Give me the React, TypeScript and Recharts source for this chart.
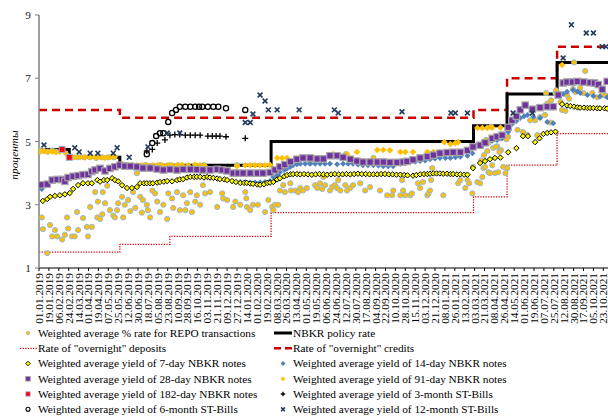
import { ComposedChart, Line, Scatter, XAxis, YAxis } from 'recharts';

const FONT = '"Liberation Serif", "Times New Roman", Times, serif';

// x values are days counted from 01.01.2019
const tickLabels = [
  '01.01.2019', '19.01.2019', '06.02.2019', '24.02.2019', '14.03.2019', '01.04.2019', '19.04.2019',
  '07.05.2019', '25.05.2019', '12.06.2019', '30.06.2019', '18.07.2019', '05.08.2019', '23.08.2019',
  '10.09.2019', '28.09.2019', '16.10.2019', '03.11.2019', '21.11.2019', '09.12.2019', '27.12.2019',
  '14.01.2020', '01.02.2020', '19.02.2020', '08.03.2020', '26.03.2020', '13.04.2020', '01.05.2020',
  '19.05.2020', '06.06.2020', '24.06.2020', '12.07.2020', '30.07.2020', '17.08.2020', '04.09.2020',
  '22.09.2020', '10.10.2020', '28.10.2020', '15.11.2020', '03.12.2020', '21.12.2020', '08.01.2021',
  '26.01.2021', '13.02.2021', '03.03.2021', '21.03.2021', '08.04.2021', '26.04.2021', '14.05.2021',
  '01.06.2021', '19.06.2021', '07.07.2021', '25.07.2021', '12.08.2021', '30.08.2021', '17.09.2021',
  '05.10.2021', '23.10.2021',
];
const yTicks = [1, 3, 5, 7, 9];

const policyRate = [[0, 4.75], [55, 4.5], [147, 4.25], [422, 5.0], [790, 5.5], [851, 6.5], [942, 7.5], [1040, 7.5]];
const overnightCredits = [[0, 6.0], [147, 5.75], [790, 6.0], [851, 7.0], [942, 8.0], [1040, 8.0]];
const overnightDeposits = [[0, 1.5], [147, 1.75], [238, 2.0], [422, 2.75], [790, 3.25], [851, 4.25], [942, 5.25], [1040, 5.25]];

const repo = [
  [2, 4.72], [9, 4.7], [16, 4.68], [24, 4.72], [31, 4.68],
  [5, 2.6], [7, 2.23], [15, 1.47], [20, 2.36], [24, 2.0], [29, 2.2], [33, 2.0], [42, 1.9], [47, 2.05], [51, 2.6],
  [53, 2.25], [60, 2.0], [60, 4.5], [65, 2.0], [71, 2.2], [69, 2.77], [71, 4.5], [80, 2.58], [82, 4.5], [87, 2.3],
  [89, 2.0], [93, 2.93], [93, 4.5], [96, 2.3], [102, 3.4], [104, 4.48], [106, 2.6], [107, 3.1], [111, 2.55],
  [115, 2.7], [115, 4.5], [116, 3.4], [120, 3.05], [124, 3.6], [126, 4.5], [129, 2.83], [135, 2.66], [136, 4.5],
  [138, 2.6], [142, 2.83], [144, 3.05], [151, 3.25], [153, 2.6], [156, 3.0], [156, 4.25], [162, 3.15], [166, 2.8],
  [171, 3.4], [175, 2.9], [178, 4.0], [184, 3.25], [187, 2.75], [189, 3.15], [193, 4.25], [196, 3.0], [198, 2.83],
  [202, 2.6], [206, 3.45], [211, 3.36], [215, 3.1], [220, 2.77], [220, 4.25], [226, 3.0], [233, 2.55], [235, 3.36],
  [238, 4.25], [242, 3.2], [244, 2.9], [251, 3.4], [253, 4.25], [256, 2.83], [262, 3.3], [266, 2.83], [269, 3.05],
  [275, 3.4], [278, 2.77], [284, 3.1], [287, 3.3], [293, 3.0],
  [298, 3.62], [302, 3.36], [300, 4.25], [311, 3.4], [324, 2.93], [333, 3.36], [335, 3.2], [342, 3.15], [353, 2.93],
  [357, 3.1], [360, 4.25], [366, 3.0], [375, 3.4], [377, 3.2], [378, 2.93], [384, 2.83], [389, 3.0], [398, 3.0],
  [411, 2.77], [417, 3.15], [424, 2.93], [426, 2.83], [429, 3.0], [435, 3.0], [438, 3.45], [444, 3.62], [447, 3.4],
  [457, 3.68], [458, 3.45], [466, 3.45], [471, 3.4], [475, 3.53], [480, 3.45], [487, 3.53], [493, 4.32], [502, 3.62],
  [506, 3.53], [511, 3.68], [515, 3.5], [517, 3.88], [520, 3.62], [529, 3.45], [533, 3.56], [538, 3.62], [544, 3.78],
  [542, 3.53], [548, 3.45], [557, 3.62], [560, 3.45], [566, 3.53], [571, 3.62], [584, 3.68], [593, 3.45], [602, 3.56],
  [608, 4.48], [620, 3.45], [633, 3.3], [642, 3.3], [644, 3.45], [540, 4.57], [558, 4.6],
  [657, 3.3], [660, 3.78], [662, 3.45], [666, 3.3], [675, 3.3], [678, 3.36], [689, 3.68], [693, 3.53], [698, 3.72],
  [706, 3.3], [708, 3.36], [711, 3.45], [713, 3.78], [715, 4.16], [735, 3.3], [762, 3.68], [766, 3.78], [775, 3.53],
  [779, 3.78], [782, 3.68], [788, 3.36], [789, 4.2], [797, 3.72], [802, 3.68], [804, 4.4], [806, 3.88], [808, 4.16],
  [809, 4.57], [811, 4.2], [815, 4.7], [817, 4.03], [820, 4.0], [824, 4.25], [826, 4.8], [829, 4.0], [833, 4.85],
  [835, 4.03], [839, 5.1], [840, 4.73], [844, 4.2], [848, 4.0], [851, 4.16], [853, 5.15],
  [813, 5.05], [817, 4.95], [822, 5.47], [831, 4.83], [837, 4.67], [850, 5.07], [870, 5.37], [880, 5.3], [888, 5.2],
  [893, 5.67], [902, 5.67], [906, 5.2], [911, 5.77], [920, 5.84], [922, 6.53], [924, 6.2], [930, 5.6], [931, 6.3],
  [939, 6.53], [940, 6.62], [948, 6.25], [951, 6.0], [957, 5.97], [960, 6.47], [964, 6.35], [971, 6.66], [973, 7.5],
  [975, 6.57], [984, 6.7], [990, 6.53], [993, 7.23], [1006, 6.53], [1015, 6.4], [1024, 6.47], [1031, 6.45],
];

const notes7 = [
  [7, 3.12], [15, 3.18], [20, 3.25], [29, 3.28], [38, 3.3], [47, 3.33], [56, 3.37], [62, 3.5], [71, 3.62], [80, 3.68],
  [89, 3.68], [96, 3.68], [106, 3.78], [111, 3.73], [118, 3.78], [124, 3.78], [133, 3.84], [138, 3.78], [144, 3.74],
  [151, 3.62], [160, 3.53], [169, 3.53], [178, 3.56], [184, 3.68], [191, 3.68], [196, 3.68], [202, 3.68], [207, 3.68],
  [215, 3.7], [220, 3.72], [227, 3.73], [233, 3.75], [242, 3.74], [251, 3.78], [256, 3.8], [262, 3.81], [269, 3.86],
  [275, 3.88], [282, 3.88], [287, 3.88], [293, 3.88], [300, 3.86], [306, 3.88], [311, 3.86], [317, 3.85], [324, 3.83],
  [329, 3.81], [337, 3.8], [342, 3.78], [351, 3.75], [358, 3.72], [366, 3.69], [373, 3.69], [378, 3.69], [384, 3.67],
  [389, 3.66], [397, 3.64], [402, 3.63], [409, 3.65], [415, 3.69], [420, 3.7], [426, 3.72], [433, 3.8], [438, 3.84],
  [446, 3.9], [451, 3.94], [457, 3.96], [462, 3.97], [469, 3.97], [475, 3.96], [482, 3.97], [489, 3.96], [496, 3.95],
  [503, 3.96], [510, 3.97], [517, 3.96], [524, 3.95], [531, 3.96], [538, 3.97], [545, 3.96], [552, 3.96], [559, 3.97],
  [566, 3.96], [573, 3.97], [580, 3.98], [587, 3.97], [594, 3.97], [601, 3.96], [608, 3.96], [615, 3.96], [622, 3.97],
  [629, 3.97], [636, 3.96], [643, 3.96], [650, 3.95], [657, 3.95], [664, 3.94], [670, 3.93], [680, 3.92], [686, 3.94],
  [693, 3.96], [700, 3.97], [706, 3.97], [711, 3.98], [717, 3.99], [723, 3.99], [729, 3.99], [735, 3.98], [742, 3.98],
  [748, 3.97], [753, 3.97], [760, 3.96], [766, 3.96], [773, 3.95], [779, 3.95], [789, 4.16], [802, 4.32], [811, 4.38],
  [820, 4.44], [829, 4.48], [839, 4.49], [853, 4.66], [868, 4.79], [880, 5.17], [889, 5.17], [902, 4.98], [910, 5.1],
  [917, 5.24], [924, 5.27], [931, 5.29], [939, 5.31], [951, 6.18], [960, 6.14], [966, 6.12], [973, 6.1], [979, 6.08],
  [984, 6.07], [991, 6.07], [997, 6.06], [1002, 6.06], [1008, 6.06], [1015, 6.05], [1020, 6.05], [1028, 6.05], [1033, 6.04],
];

const notes14 = [
  [5, 3.5], [366, 3.72], [375, 3.72], [384, 3.7], [393, 3.7], [402, 3.7], [411, 3.72], [420, 3.75], [426, 3.88],
  [433, 3.95], [438, 4.03], [446, 4.1], [451, 4.15], [457, 4.2], [462, 4.25], [469, 4.28], [475, 4.3], [484, 4.3],
  [493, 4.3], [502, 4.3], [511, 4.3], [520, 4.3], [529, 4.3], [542, 4.28], [553, 4.3], [562, 4.3], [571, 4.3],
  [580, 4.27], [589, 4.25], [598, 4.25], [608, 4.25], [617, 4.24], [626, 4.22], [635, 4.22], [644, 4.22], [657, 4.3],
  [666, 4.32], [675, 4.35], [684, 4.36], [693, 4.38], [702, 4.4], [711, 4.44], [720, 4.46], [729, 4.48], [739, 4.48],
  [748, 4.48], [757, 4.5], [766, 4.52], [779, 4.55], [788, 4.63], [797, 4.9], [806, 4.95], [815, 5.0], [824, 5.02],
  [833, 5.05], [842, 5.1], [853, 5.3], [860, 5.55], [868, 5.65], [875, 5.74], [882, 5.8], [888, 5.84], [899, 5.78],
  [911, 5.74], [924, 5.62], [935, 5.58], [948, 6.47], [953, 6.5], [960, 6.57], [971, 6.63], [979, 6.58], [984, 6.53],
  [997, 6.47], [1008, 6.44], [1020, 6.42], [1033, 6.4],
];

const notes28 = [
  [5, 3.63], [15, 3.65], [24, 3.78], [33, 3.8], [42, 3.8], [47, 3.74], [53, 3.86], [62, 3.9], [71, 3.92], [80, 3.95],
  [89, 3.96], [96, 4.05], [102, 4.1], [111, 4.15], [120, 4.07], [129, 4.15], [138, 4.2], [147, 4.25], [156, 4.22],
  [166, 4.22], [178, 4.2], [189, 4.16], [202, 4.16], [215, 4.13], [226, 4.1], [238, 4.12], [251, 4.1], [262, 4.12],
  [275, 4.12], [287, 4.11], [298, 4.1], [311, 4.1], [324, 4.12], [333, 4.1], [342, 4.07], [353, 4.0], [362, 4.0],
  [371, 4.0], [384, 4.0], [397, 4.0], [407, 4.0], [420, 4.02], [429, 4.1], [438, 4.2], [447, 4.27], [457, 4.36],
  [469, 4.44], [480, 4.48], [493, 4.48], [506, 4.45], [517, 4.45], [529, 4.55], [542, 4.55], [553, 4.5], [566, 4.44],
  [578, 4.38], [589, 4.35], [602, 4.35], [615, 4.35], [626, 4.35], [638, 4.34], [651, 4.34], [662, 4.35], [669, 4.37],
  [680, 4.42], [693, 4.48], [706, 4.52], [717, 4.57], [729, 4.63], [742, 4.65], [753, 4.66], [766, 4.66], [779, 4.72],
  [789, 4.83], [802, 4.88], [811, 4.96], [824, 5.1], [833, 5.15], [842, 5.2], [853, 5.45], [860, 5.67], [868, 5.8],
  [875, 6.0], [884, 6.15], [897, 6.02], [911, 6.07], [924, 6.1], [935, 6.1], [944, 6.47], [953, 6.85], [960, 6.88],
  [970, 6.88], [979, 6.9], [990, 6.88], [1002, 6.86], [1010, 6.85], [1017, 6.8], [1024, 6.65], [1033, 6.9],
];

const notes91 = [
  [2, 4.68], [9, 4.7], [16, 4.67], [24, 4.68], [31, 4.66], [38, 4.68], [49, 4.62], [56, 4.5], [65, 4.5], [75, 4.5],
  [84, 4.5], [93, 4.5], [102, 4.5], [111, 4.5], [120, 4.48], [129, 4.5], [138, 4.52], [151, 4.27], [160, 4.25],
  [169, 4.25], [178, 4.25], [187, 4.25], [196, 4.25], [206, 4.25], [215, 4.25], [224, 4.25], [233, 4.25], [242, 4.25],
  [251, 4.25], [260, 4.26], [271, 4.25], [284, 4.27], [293, 4.25], [302, 4.22], [360, 4.22], [375, 4.25], [384, 4.25],
  [393, 4.25], [402, 4.25], [411, 4.25], [420, 4.26], [433, 4.48], [442, 4.48], [451, 4.48], [480, 4.48], [535, 4.6],
  [560, 4.6], [578, 4.67], [615, 4.73], [626, 4.73], [638, 4.72], [657, 4.67], [666, 4.67], [680, 4.67], [706, 4.67],
  [717, 4.67], [729, 4.67], [737, 4.98], [748, 4.92], [757, 4.95], [762, 4.98], [797, 5.43], [806, 5.43], [815, 5.43],
  [824, 5.44], [839, 5.44], [951, 7.42],
];

const notes182 = [[42, 4.75], [55, 4.5]];

const bills3m = [
  [196, 4.7], [206, 4.75], [215, 4.95], [229, 5.05], [238, 5.2], [247, 5.22], [256, 5.22], [266, 5.2], [275, 5.2],
  [284, 5.2], [293, 5.2], [307, 5.17], [315, 5.17], [322, 5.17], [329, 5.17], [340, 5.15], [375, 5.1],
];

const bills6m = [
  [196, 4.6], [206, 4.95], [213, 5.17], [220, 5.26], [226, 5.26], [235, 5.62], [242, 5.9], [249, 6.0], [256, 6.1],
  [266, 6.1], [275, 6.1], [284, 6.1], [291, 6.1], [297, 6.1], [307, 6.1], [317, 6.1], [326, 6.1], [340, 6.05], [375, 6.0],
];

const bills12m = [
  [9, 4.89], [65, 4.8], [73, 4.67], [93, 4.63], [107, 4.63], [135, 4.63], [142, 4.8], [164, 4.5], [198, 4.83],
  [233, 5.27], [256, 5.27], [375, 5.6], [384, 5.6], [389, 5.87], [402, 6.47], [411, 6.28], [417, 6.0], [433, 6.0],
  [473, 6.0], [537, 6.0], [544, 5.9], [660, 5.94], [749, 5.9], [757, 5.9], [779, 5.9], [862, 5.9], [897, 5.9],
  [953, 7.64], [968, 8.69], [995, 8.43], [1008, 8.43], [1024, 8.0], [1031, 8.0],
];

const dayOf = (label: string) => {
  const [d, m, y] = label.split('.').map(Number);
  return Math.round((Date.UTC(y, m - 1, d) - Date.UTC(2019, 0, 1)) / 86400000);
};
const tickDays = tickLabels.map(dayOf);
const labelByDay = new Map(tickDays.map((d, i) => [d, tickLabels[i]]));

const toPts = (arr: number[][]) => arr.map(([day, v]) => ({ day, v }));

// marker shapes
const circle = (r: number, fill: string, stroke: string, sw: number) => (p: any) =>
  <circle cx={p.cx} cy={p.cy} r={r} fill={fill} stroke={stroke} strokeWidth={sw} />;
const diamond = (s: number, fill: string, stroke: string, sw: number) => (p: any) =>
  <path d={`M${p.cx},${p.cy - s}L${p.cx + s},${p.cy}L${p.cx},${p.cy + s}L${p.cx - s},${p.cy}Z`} fill={fill} stroke={stroke} strokeWidth={sw} />;
const square = (s: number, fill: string, stroke: string, sw: number) => (p: any) =>
  <rect x={p.cx - s} y={p.cy - s} width={2 * s} height={2 * s} fill={fill} stroke={stroke} strokeWidth={sw} />;
const plus = (s: number, color: string) => (p: any) =>
  <path d={`M${p.cx - s},${p.cy}H${p.cx + s}M${p.cx},${p.cy - s}V${p.cy + s}`} stroke={color} strokeWidth={1.3} fill="none" />;
const cross = (s: number, color: string) => (p: any) =>
  <path d={`M${p.cx - s},${p.cy - s}L${p.cx + s},${p.cy + s}M${p.cx - s},${p.cy + s}L${p.cx + s},${p.cy - s}`} stroke={color} strokeWidth={1.6} fill="none" />;

const repoShape = circle(2.6, '#FFC000', '#8FB4E3', 0.9);
const n7Shape = diamond(2.7, '#FFFF00', '#000', 1.0);
const n14Shape = diamond(3, '#4F81BD', 'none', 0);
const n28Shape = square(3.2, '#7030A0', '#A6A6A6', 1.2);
const n91Shape = diamond(3.3, '#FFC000', 'none', 0);
const n182Shape = square(3, '#FF0000', '#8FB4E3', 1);
const b3Shape = plus(3, '#000');
const b6Shape = circle(2.6, 'none', '#000', 1.3);
const b12Shape = cross(2.4, '#243B5E');

function DateTick({ x, y, payload }: any) {
  return (
    <text x={x} y={y} dy="0.35em" transform={`rotate(-90, ${x}, ${y})`} textAnchor="end"
      fontSize={11.3} fontFamily={FONT} fill="#000">
      {labelByDay.get(payload.value)}
    </text>
  );
}

const legendLeft = [
  { text: 'Weighted average % rate for REPO transactions', shape: circle(1.8, '#FFC000', '#8FB4E3', 0.6) },
  { text: 'Rate of "overnight" deposits', line: 'dotted' },
  { text: 'Weighted average yield of 7-day NBKR notes', shape: diamond(2.3, '#FFFF00', '#000', 0.9) },
  { text: 'Weighted average yield of 28-day NBKR notes', shape: square(2.3, '#7030A0', '#A6A6A6', 0.8) },
  { text: 'Weighted average yield of 182-day NBKR notes', shape: square(2.2, '#FF0000', '#8FB4E3', 0.8) },
  { text: 'Weighted average yield of 6-month ST-Bills', shape: circle(2, 'none', '#000', 1.1) },
];
const legendRight = [
  { text: 'NBKR policy rate', line: 'solid' },
  { text: 'Rate of "overnight" credits', line: 'dashed' },
  { text: 'Weighted average yield of 14-day NBKR notes', shape: diamond(2.4, '#4F81BD', 'none', 0) },
  { text: 'Weighted average yield of 91-day NBKR notes', shape: diamond(2.4, '#FFC000', 'none', 0) },
  { text: 'Weighted average yield of 3-month ST-Bills', shape: plus(2.2, '#000') },
  { text: 'Weighted average yield of 12-month ST-Bills', shape: cross(1.9, '#243B5E') },
];

function LegendItem({ item, x, y, markerX, lineX }: any) {
  let marker = null;
  if (item.line === 'solid') marker = <line x1={lineX} x2={lineX + 18} y1={y} y2={y} stroke="#000" strokeWidth={3} />;
  else if (item.line === 'dashed') marker = <line x1={lineX} x2={lineX + 18} y1={y} y2={y} stroke="#CC0000" strokeWidth={2.5} strokeDasharray="7 4" />;
  else if (item.line === 'dotted') marker = <line x1={lineX} x2={lineX + 17} y1={y} y2={y} stroke="#D01010" strokeWidth={1.3} strokeDasharray="1.3 1.3" />;
  else marker = item.shape({ cx: markerX, cy: y });
  return (
    <g>
      {marker}
      <text x={x} y={y} dy="0.35em" fontSize={11.3} fontFamily={FONT} fill="#000">{item.text}</text>
    </g>
  );
}

export default function App() {
  const rowY = [333, 348.3, 363.5, 378.8, 394, 409.3];
  return (
    <div style={{ position: 'absolute', left: 0, top: 0, width: 608, height: 416, overflow: 'hidden', background: '#fff' }}>
      <ComposedChart width={611} height={328} margin={{ top: 15, right: 0, bottom: 0, left: 0 }}>
        <XAxis dataKey="day" type="number" domain={[0, 1040]} allowDataOverflow ticks={tickDays} interval={0}
          height={60} tick={<DateTick />} tickSize={3} tickMargin={2} axisLine={{ stroke: '#000' }} tickLine={{ stroke: '#000' }} />
        <YAxis type="number" domain={[1, 9]} allowDataOverflow ticks={yTicks} interval={0} width={39} tickSize={4} tickMargin={4}
          tick={{ fontSize: 11.3, fontFamily: FONT, fill: '#222' }} axisLine={{ stroke: '#808080', strokeWidth: 1.5 }} tickLine={{ stroke: '#808080' }} />
        <Line data={toPts(overnightDeposits)} dataKey="v" type="stepAfter" stroke="#D01010" strokeWidth={1.3}
          strokeDasharray="1.3 1.3" dot={false} isAnimationActive={false} />
        <Line data={toPts(overnightCredits)} dataKey="v" type="stepAfter" stroke="#CC0000" strokeWidth={2.5}
          strokeDasharray="8 5" dot={false} isAnimationActive={false} />
        <Line data={toPts(policyRate)} dataKey="v" type="stepAfter" stroke="#000" strokeWidth={3}
          dot={false} isAnimationActive={false} />
        <Scatter data={toPts(repo)} dataKey="v" shape={repoShape} isAnimationActive={false} />
        <Scatter data={toPts(notes91)} dataKey="v" shape={n91Shape} isAnimationActive={false} />
        <Scatter data={toPts(notes14)} dataKey="v" shape={n14Shape} isAnimationActive={false} />
        <Scatter data={toPts(notes28)} dataKey="v" shape={n28Shape} isAnimationActive={false} />
        <Scatter data={toPts(notes7)} dataKey="v" shape={n7Shape} isAnimationActive={false} />
        <Scatter data={toPts(notes182)} dataKey="v" shape={n182Shape} isAnimationActive={false} />
        <Scatter data={toPts(bills3m)} dataKey="v" shape={b3Shape} isAnimationActive={false} />
        <Scatter data={toPts(bills6m)} dataKey="v" shape={b6Shape} isAnimationActive={false} />
        <Scatter data={toPts(bills12m)} dataKey="v" shape={b12Shape} isAnimationActive={false} />
      </ComposedChart>
      <svg width={608} height={416} style={{ position: 'absolute', left: 0, top: 0, pointerEvents: 'none' }}>
        <text transform="translate(18,155) rotate(-90)" textAnchor="middle" fontSize={11.3} fontStyle="italic"
          fontFamily={FONT} fill="#000">проценты</text>
        {legendLeft.map((item, i) => (
          <LegendItem key={'l' + i} item={item} x={38} y={rowY[i]} markerX={28} lineX={20} />
        ))}
        {legendRight.map((item, i) => (
          <LegendItem key={'r' + i} item={item} x={293} y={rowY[i]} markerX={283} lineX={274} />
        ))}
      </svg>
    </div>
  );
}
